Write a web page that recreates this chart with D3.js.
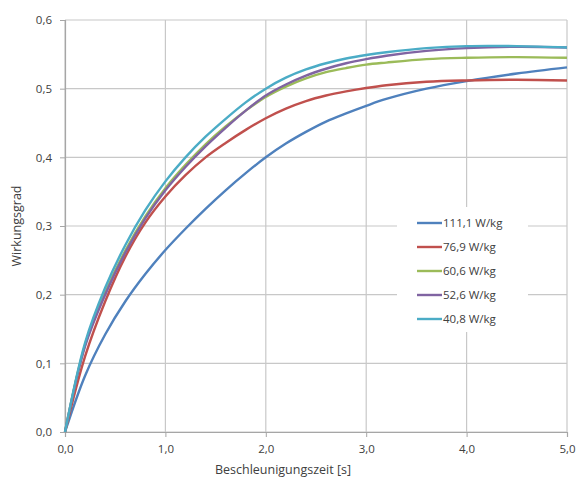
<!DOCTYPE html>
<html><head><meta charset="utf-8">
<script src="https://cdn.jsdelivr.net/npm/d3@7"></script>
<style>body{margin:0;background:#fff}svg{display:block}text{font-family:"Open Sans",sans-serif;fill:#404040}</style>
</head><body>
<script>
const xValues = [0,0.2,0.4,0.6,0.8,1.0,1.2,1.4,1.6,1.8,2.0,2.2,2.4,2.6,2.8,3.0,3.2,3.6,4.0,4.5,5.0];
const s111 = [0,0.082,0.142,0.190,0.230,0.265,0.296,0.325,0.352,0.377,0.400,0.420,0.437,0.452,0.464,0.475,0.485,0.500,0.511,0.522,0.531];
const s769 = [0,0.110,0.190,0.255,0.305,0.343,0.374,0.400,0.421,0.440,0.457,0.471,0.482,0.490,0.496,0.501,0.505,0.510,0.512,0.513,0.512];
const s606 = [0,0.127,0.203,0.264,0.314,0.355,0.389,0.419,0.445,0.468,0.488,0.503,0.515,0.524,0.530,0.535,0.538,0.543,0.545,0.546,0.545];
const s526 = [0,0.125,0.200,0.261,0.311,0.352,0.386,0.416,0.443,0.468,0.490,0.506,0.519,0.529,0.537,0.543,0.548,0.555,0.559,0.561,0.560];
const s408 = [0,0.130,0.210,0.272,0.323,0.365,0.400,0.430,0.456,0.480,0.500,0.516,0.528,0.537,0.544,0.549,0.553,0.559,0.562,0.562,0.560];
const seriesNames = ["111,1 W/kg","76,9 W/kg","60,6 W/kg","52,6 W/kg","40,8 W/kg"];
const seriesValues = [s111,s769,s606,s526,s408];
const colors = ["#4f81bd","#c0504d","#9bbb59","#8064a2","#4bacc6"];
const xTicks = [0,1,2,3,4,5];
const yTicks = [0,0.1,0.2,0.3,0.4,0.5,0.6];
const fmt = d => d3.format(".1f")(d).replace(".", ",");

const W=578,H=482;
const svg=d3.select("body").append("svg").attr("width",W).attr("height",H);
const x=d3.scaleLinear().domain([0,5]).range([65,567]);
const y=d3.scaleLinear().domain([0,0.6]).range([432,20]);

const grid=svg.append("g");
grid.selectAll(".gx").data(xTicks).join("line")
  .attr("x1",d=>x(d)).attr("x2",d=>x(d)).attr("y1",y(0)).attr("y2",y(0.6))
  .attr("stroke","#c8c8c8").attr("stroke-width",1.2);
grid.selectAll(".gy").data(yTicks).join("line")
  .attr("x1",x(0)).attr("x2",x(5)).attr("y1",d=>y(d)).attr("y2",d=>y(d))
  .attr("stroke","#c8c8c8").attr("stroke-width",1.2);

const xa=svg.append("g").attr("transform",`translate(0,${y(0)})`)
  .call(d3.axisBottom(x).tickValues(xTicks).tickFormat(fmt).tickSize(5).tickPadding(8));
const ya=svg.append("g").attr("transform",`translate(${x(0)},0)`)
  .call(d3.axisLeft(y).tickValues(yTicks).tickFormat(fmt).tickSize(5).tickPadding(8));
[xa,ya].forEach(a=>{
  a.select(".domain").attr("stroke","#a6a6a6").attr("stroke-width",1.2);
  a.selectAll(".tick line").attr("stroke","#a6a6a6");
  a.selectAll(".tick text").style("font-size","11.5px").attr("fill","#595959");
});

const line=d3.line().x((d,i)=>x(xValues[i])).y(d=>y(d)).curve(d3.curveCatmullRom.alpha(0.5));
svg.append("g").selectAll("path").data(seriesValues).join("path")
  .attr("d",d=>line(d)).attr("fill","none")
  .attr("stroke",(d,i)=>colors[i]).attr("stroke-width",2.4).attr("stroke-linejoin","round");

const lg=svg.append("g");
lg.append("rect").attr("x",397).attr("y",207).attr("width",131).attr("height",125).attr("fill","#fff");
seriesNames.forEach((n,i)=>{
  const yy=223+i*24;
  lg.append("line").attr("x1",417).attr("x2",442).attr("y1",yy).attr("y2",yy)
    .attr("stroke",colors[i]).attr("stroke-width",2.4);
  lg.append("text").attr("x",443).attr("y",yy+4).style("font-size","11.5px").attr("fill","#404040").text(n);
});

svg.append("text").attr("x",283).attr("y",474).attr("text-anchor","middle")
  .style("font-size","12.5px").text("Beschleunigungszeit [s]");
svg.append("text").attr("transform","translate(21,226) rotate(-90)").attr("text-anchor","middle")
  .style("font-size","12.5px").text("Wirkungsgrad");
</script>
</body></html>
